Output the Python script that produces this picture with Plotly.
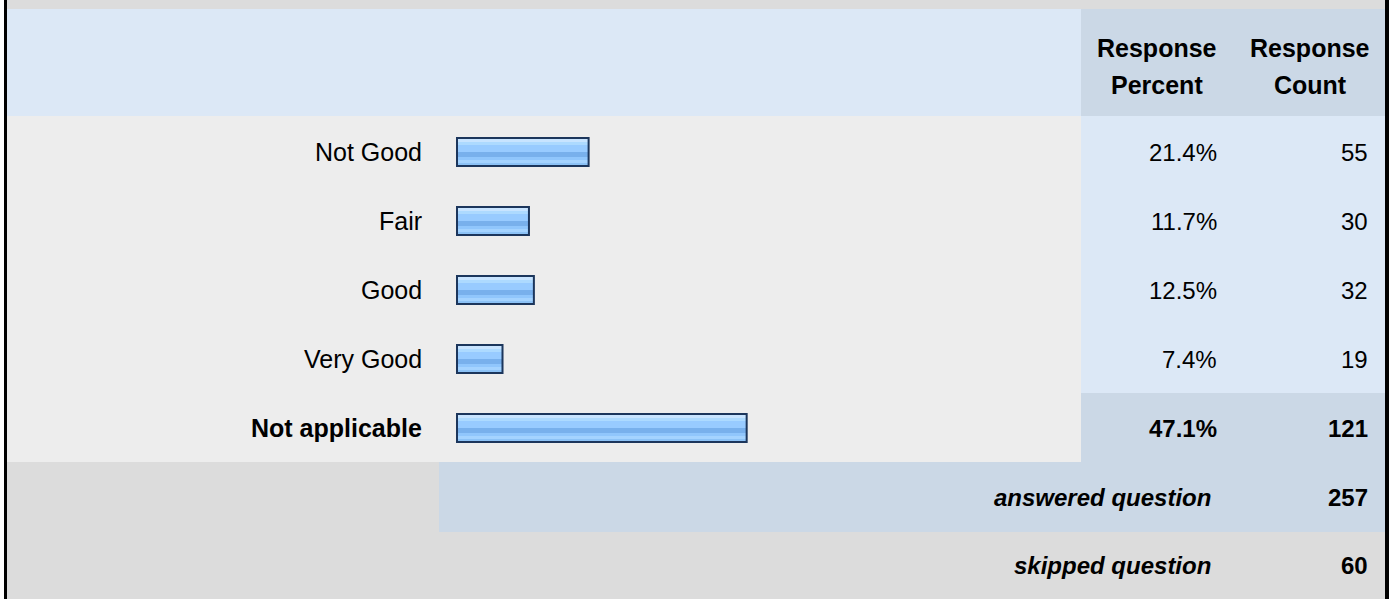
import plotly.graph_objects as go

# ---- data ----
categories = ["Not Good", "Fair", "Good", "Very Good", "Not applicable"]
percents = [21.4, 11.7, 12.5, 7.4, 47.1]
counts = [55, 30, 32, 19, 121]
answered = 257
skipped = 60
header_percent = ["Response", "Percent"]
header_count = ["Response", "Count"]

# ---- page geometry (pixels) ----
W, H = 1393, 599
ROW = 69            # pixels per category row
ROW0 = 152          # pixel centre of the first row
X0_PX = 457         # pixel of 0 %
PX_PER_PCT = 6.15   # pixels per percent

FONT = "Liberation Sans, Arial, sans-serif"
C_GRAY = "#dcdcdc"
C_LIGHT = "#dce8f6"
C_MID = "#cbd8e6"
C_BG = "#ededed"


def px(x):
    return x / W


def py(y):
    return 1 - y / H


fig = go.Figure()

# glossy bar: base fill + horizontal stripes + dark outline
half = 14
stripes = [
    (-13, -10, "#c8e4ff"),
    (-10, -7, "#addaff"),
    (-7, 0, "#98cbff"),
    (0, 5, "#78b0ec"),
    (5, 8, "#90c6fc"),
    (8, 11, "#a4d3ff"),
    (11, 13, "#8cc2f6"),
]
fig.add_trace(go.Bar(
    x=percents, y=categories, orientation="h",
    offset=-half / ROW, width=2 * half / ROW,
    marker=dict(color="#98cbff", line=dict(width=0)),
    hoverinfo="skip", showlegend=False,
))
for a, b, col in stripes:
    fig.add_trace(go.Bar(
        x=percents, y=categories, orientation="h",
        offset=a / ROW, width=(b - a) / ROW,
        marker=dict(color=col, line=dict(width=0)),
        hoverinfo="skip", showlegend=False,
    ))
fig.add_trace(go.Bar(
    x=percents, y=categories, orientation="h",
    offset=-half / ROW, width=2 * half / ROW,
    marker=dict(color="rgba(0,0,0,0)", line=dict(color="#1c365c", width=2)),
    hoverinfo="skip", showlegend=False,
))

# ---- background panels ----
shapes = []


def rect(x0, y0, x1, y1, color):
    shapes.append(dict(type="rect", xref="paper", yref="paper",
                       x0=px(x0), x1=px(x1), y0=py(y1), y1=py(y0),
                       fillcolor=color, line=dict(width=0), layer="below"))


rect(7, 0, 1385, 9, C_GRAY)
rect(7, 9, 1081, 116, C_LIGHT)
rect(1081, 9, 1385, 116, C_MID)
rect(7, 116, 1081, 462, C_BG)
rect(1081, 116, 1385, 393, C_LIGHT)
rect(1081, 393, 1385, 462, C_MID)
rect(7, 462, 439, 532, C_GRAY)
rect(439, 462, 1385, 532, C_MID)
rect(7, 532, 1385, 599, C_GRAY)
rect(4, 0, 7, 599, "#000000")
rect(1385, 0, 1389, 599, "#000000")

# ---- text ----
ann = []
last = len(categories) - 1


def text(x, y, s, anchor, yref="paper", size=25, bold=False, italic=False):
    if bold:
        s = f"<b>{s}</b>"
    if italic:
        s = f"<i>{s}</i>"
    ann.append(dict(x=px(x), xref="paper", y=y, yref=yref, text=s,
                    xanchor=anchor, yanchor="middle", showarrow=False,
                    font=dict(family=FONT, size=size, color="#000000")))


for i, (cat, p, c) in enumerate(zip(categories, percents, counts)):
    strong = i == last
    text(424, cat, cat, "right", yref="y", bold=strong)
    text(1219, cat, f"{p:.1f}%", "right", yref="y", size=24, bold=strong)
    text(1370, cat, f"{c}", "right", yref="y", size=24, bold=strong)

text(1157, py(48), header_percent[0], "center", bold=True)
text(1157, py(85), header_percent[1], "center", bold=True)
text(1310, py(48), header_count[0], "center", bold=True)
text(1310, py(85), header_count[1], "center", bold=True)

text(1213, py(497), "answered question", "right", size=24, bold=True, italic=True)
text(1370, py(497), f"{answered}", "right", size=24, bold=True)
text(1213, py(565), "skipped question", "right", size=24, bold=True, italic=True)
text(1370, py(565), f"{skipped}", "right", size=24, bold=True)

x_lo = (0 - X0_PX) / PX_PER_PCT
x_hi = (W - X0_PX) / PX_PER_PCT
y_top = (0 - ROW0) / ROW
y_bot = (H - ROW0) / ROW

fig.update_layout(
    width=W, height=H,
    margin=dict(l=0, r=0, t=0, b=0),
    paper_bgcolor="#ffffff", plot_bgcolor="rgba(0,0,0,0)",
    barmode="overlay",
    shapes=shapes, annotations=ann,
    xaxis=dict(range=[x_lo, x_hi], domain=[0, 1], visible=False, fixedrange=True),
    yaxis=dict(type="category", categoryorder="array", categoryarray=categories,
               range=[y_bot, y_top], domain=[0, 1], visible=False, fixedrange=True),
)

fig.write_html("out.html", config={"displayModeBar": False})
